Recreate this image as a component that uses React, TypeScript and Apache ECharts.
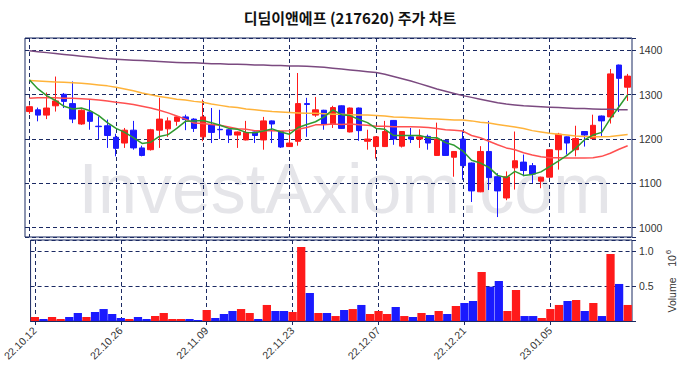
import React, { useEffect, useRef } from "react";
import * as echarts from "echarts";

const dates = [
  "22.10.12","22.10.13","22.10.14","22.10.17","22.10.18","22.10.19","22.10.20","22.10.21","22.10.24","22.10.25",
  "22.10.26","22.10.27","22.10.28","22.10.31","22.11.01","22.11.02","22.11.03","22.11.04","22.11.07","22.11.08",
  "22.11.09","22.11.10","22.11.11","22.11.14","22.11.15","22.11.16","22.11.17","22.11.18","22.11.21","22.11.22",
  "22.11.23","22.11.24","22.11.25","22.11.28","22.11.29","22.11.30","22.12.01","22.12.02","22.12.05","22.12.06",
  "22.12.07","22.12.08","22.12.09","22.12.12","22.12.13","22.12.14","22.12.15","22.12.16","22.12.19","22.12.20",
  "22.12.21","22.12.22","22.12.23","22.12.26","22.12.27","22.12.28","22.12.29","23.01.02","23.01.03","23.01.04",
  "23.01.05","23.01.06","23.01.09","23.01.10","23.01.11","23.01.12","23.01.13","23.01.16","23.01.17","23.01.18",
];

const opens = [
  1262,1266,1254,1275,1301,1280,1234,1261,1229,1230,
  1204,1191,1220,1180,1176,1220,1223,1240,1250,1245,
  1205,1232,1222,1221,1209,1198,1216,1198,1241,1217,
  1183,1195,1280,1254,1265,1234,1275,1216,1270,1195,
  1183,1183,1242,1184,1205,1200,1206,1163,1197,1159,
  1200,1146,1081,1172,1115,1067,1135,1148,1140,1105,
  1114,1176,1205,1176,1217,1201,1252,1250,1367,1317,
];
const closes = [
  1273,1254,1270,1286,1285,1245,1265,1240,1228,1208,
  1179,1220,1180,1163,1221,1245,1241,1250,1244,1224,
  1250,1215,1221,1209,1216,1215,1208,1241,1234,1182,
  1191,1280,1278,1266,1234,1271,1224,1270,1219,1200,
  1205,1217,1200,1217,1200,1205,1191,1200,1163,1172,
  1140,1083,1172,1113,1083,1115,1151,1129,1121,1114,
  1176,1211,1191,1201,1209,1231,1241,1347,1337,1342,
];
const lows = [
  1257,1240,1245,1262,1270,1236,1232,1221,1200,1180,
  1161,1180,1176,1161,1174,1180,1205,1230,1220,1216,
  1195,1191,1200,1191,1180,1197,1191,1176,1191,1180,
  1182,1185,1205,1250,1221,1225,1223,1215,1196,1176,
  1156,1182,1187,1181,1191,1180,1176,1162,1162,1115,
  1108,1058,1080,1085,1024,1062,1086,1116,1101,1089,
  1113,1131,1165,1161,1183,1200,1207,1235,1261,1286,
];
const highs = [
  1276,1271,1305,1341,1304,1330,1267,1289,1251,1244,
  1212,1225,1241,1185,1223,1293,1249,1251,1255,1247,
  1289,1270,1266,1222,1217,1241,1217,1250,1242,1218,
  1221,1349,1293,1295,1266,1275,1276,1271,1271,1221,
  1206,1241,1243,1218,1225,1222,1210,1237,1198,1173,
  1218,1147,1184,1241,1123,1127,1217,1165,1146,1115,
  1177,1214,1206,1230,1218,1255,1253,1358,1368,1347,
];
// volume in millions of shares
const volumes = [
  0.057,0.029,0.057,0.029,0.057,0.114,0.057,0.129,0.171,0.1,
  0.043,0.029,0.057,0.029,0.071,0.114,0.029,0.029,0.029,0.014,
  0.157,0.043,0.1,0.143,0.171,0.114,0.029,0.229,0.143,0.143,
  0.129,1.057,0.4,0.114,0.114,0.071,0.157,0.171,0.229,0.1,
  0.143,0.1,0.2,0.071,0.057,0.114,0.086,0.143,0.1,0.214,
  0.257,0.286,0.7,0.49,0.571,0.143,0.443,0.071,0.071,0.043,
  0.171,0.229,0.286,0.3,0.143,0.257,0.071,0.957,0.529,0.229,
];
const ma5 = [
  1334,1313,1298,1287,1274,1268,1270,1264,1253,1237,
  1224,1215,1203,1190,1193,1206,1210,1224,1240,1241,
  1242,1237,1231,1224,1222,1215,1214,1218,1223,1216,
  1211,1226,1233,1239,1250,1266,1255,1253,1244,1237,
  1224,1222,1208,1208,1208,1208,1203,1203,1192,1186,
  1173,1152,1146,1136,1118,1113,1127,1118,1120,1126,
  1138,1150,1163,1179,1198,1209,1215,1246,1273,1300,
];
const ma20 = [
  1292,1293,1293,1293,1292,1292,1291,1290,1288,1286,
  1283,1281,1278,1274,1270,1265,1259,1252,1245,1236,
  1235,1233,1231,1227,1223,1222,1219,1219,1219,1218,
  1219,1222,1226,1232,1232,1234,1233,1234,1232,1231,
  1229,1229,1228,1228,1228,1227,1226,1224,1221,1220,
  1218,1208,1203,1195,1187,1180,1176,1169,1164,1160,
  1158,1158,1157,1157,1157,1158,1161,1168,1177,1185,
];
const ma60 = [
  1332,1331,1330,1329,1328,1327,1326,1324,1322,1320,
  1317,1313,1309,1304,1300,1296,1293,1290,1288,1285,
  1283,1279,1276,1273,1271,1268,1266,1264,1262,1261,
  1260,1259,1258,1258,1257,1256,1256,1255,1254,1254,
  1253,1252,1250,1249,1248,1247,1246,1245,1244,1243,
  1243,1241,1238,1236,1233,1230,1227,1224,1219,1216,
  1213,1211,1209,1207,1206,1205,1205,1206,1208,1210,
];
const ma120 = [
  1399,1397,1395,1393,1391,1389,1387,1385,1383,1381,
  1380,1379,1378,1377,1376,1375,1374,1373,1372,1372,
  1371,1370,1370,1369,1369,1368,1367,1367,1366,1366,
  1365,1365,1364,1363,1362,1360,1358,1356,1354,1352,
  1350,1346,1341,1336,1331,1325,1319,1313,1308,1303,
  1298,1294,1290,1286,1282,1279,1277,1275,1274,1273,
  1272,1271,1270,1269,1269,1268,1267,1267,1266,1266,
];
const priceTicks = [1000, 1100, 1200, 1300, 1400];
const volumeTicks = [0.5, 1.0];
const labelEvery = 10;

const RED = "#ff1a1a";
const BLUE = "#1a1aff";
const NAVY = "#1b2a63";
const FONT = "Liberation Sans, Arial, sans-serif";

export default function App() {
  const ref = useRef<HTMLDivElement>(null);
  useEffect(() => {
    const chart = echarts.init(ref.current!, null, { renderer: "svg" });
    const candleData = dates.map((_, i) => [opens[i], closes[i], lows[i], highs[i]]);
    const showIdx = (i: number) => i % labelEvery === 0;
    const dashed = { color: NAVY, type: [4, 3], width: 1 };
    const vSplit = { show: true, alignWithLabel: true, interval: (i: number) => showIdx(i), lineStyle: dashed };
    const maLine = (data: number[], color: string, z: number) => ({
      type: "line",
      xAxisIndex: 0,
      yAxisIndex: 0,
      data,
      symbol: "none",
      showSymbol: false,
      smooth: false,
      lineStyle: { color, width: 1.5 },
      z,
    });
    chart.setOption({
      animation: false,
      backgroundColor: "#ffffff",
      textStyle: { fontFamily: FONT },
      grid: [
        { left: 25, top: 38, width: 607, height: 199, show: true, borderColor: NAVY, borderWidth: 1 },
        { left: 25, top: 240, width: 607, height: 81, show: true, borderColor: NAVY, borderWidth: 1 },
      ],
      xAxis: [
        {
          type: "category", gridIndex: 0, data: dates, boundaryGap: true,
          axisLine: { show: false }, axisTick: { show: false }, axisLabel: { show: false },
          splitLine: vSplit,
        },
        {
          type: "category", gridIndex: 1, data: dates, boundaryGap: true,
          axisLine: { show: true, lineStyle: { color: NAVY } },
          axisTick: { show: true, alignWithLabel: true, interval: (i: number) => showIdx(i), length: 4, lineStyle: { color: NAVY } },
          axisLabel: { interval: (i: number) => showIdx(i), rotate: 45, fontSize: 10.5, color: "#333", margin: 8, fontFamily: FONT },
          splitLine: vSplit,
        },
      ],
      yAxis: [
        {
          type: "value", gridIndex: 0, position: "right", min: 979, max: 1428,
          axisLine: { show: false },
          axisTick: { show: true, length: 4, lineStyle: { color: NAVY } },
          axisLabel: {
            formatter: (v: number) => (priceTicks.includes(v) ? String(v) : ""),
            fontSize: 10.5, color: "#333", margin: 7, fontFamily: FONT,
          },
          splitLine: { show: true, lineStyle: dashed },
        },
        {
          type: "value", gridIndex: 1, position: "right", min: 0, max: 1.157, interval: 0.5,
          axisLine: { show: false },
          axisTick: { show: true, length: 4, lineStyle: { color: NAVY } },
          axisLabel: {
            formatter: (v: number) => (volumeTicks.some((t) => Math.abs(t - v) < 1e-9) ? v.toFixed(1) : ""),
            fontSize: 10.5, color: "#333", margin: 7, fontFamily: FONT,
          },
          splitLine: { show: true, lineStyle: dashed },
        },
      ],
      graphic: [
        {
          type: "text", x: 345, y: 189, z: -1, silent: true,
          style: {
            text: "InvestAxiom.com", fontSize: 70, fontFamily: FONT,
            fill: "#e5e5e9", align: "center", verticalAlign: "middle",
          },
        },
        {
          type: "text", x: 350, y: 17,
          style: {
            text: "디딤이앤에프 (217620) 주가 차트", fontSize: 15, fontWeight: "bold",
            fontFamily: "Noto Sans CJK KR", fill: "#111", align: "center", verticalAlign: "middle",
          },
        },
        {
          type: "text", x: 672, y: 295, rotation: Math.PI / 2,
          style: { text: "Volume", fontSize: 10.5, fontFamily: FONT, fill: "#333", align: "center", verticalAlign: "middle" },
        },
        {
          type: "text", x: 672, y: 261, rotation: Math.PI / 2,
          style: { text: "10", fontSize: 10.5, fontFamily: FONT, fill: "#333", align: "center", verticalAlign: "middle" },
        },
        {
          type: "text", x: 668, y: 252, rotation: Math.PI / 2,
          style: { text: "6", fontSize: 8, fontFamily: FONT, fill: "#333", align: "center", verticalAlign: "middle" },
        },
      ],
      series: [
        {
          type: "candlestick", xAxisIndex: 0, yAxisIndex: 0, data: candleData, barWidth: 6, z: 3,
          itemStyle: { color: RED, color0: BLUE, borderColor: RED, borderColor0: BLUE, borderWidth: 1 },
        },
        maLine(ma120, "#7b4a80", 4),
        maLine(ma60, "#ffb33a", 4),
        maLine(ma20, "#ff5050", 4),
        maLine(ma5, "#2f9a2f", 5),
        {
          type: "bar", xAxisIndex: 1, yAxisIndex: 1, data: volumes, barCategoryGap: "4%", z: 3,
          itemStyle: { color: (p: any) => (closes[p.dataIndex] >= opens[p.dataIndex] ? RED : BLUE) },
        },
      ],
    });
    return () => chart.dispose();
  }, []);
  return (
    <div
      ref={ref}
      style={{ position: "fixed", left: 0, top: 0, width: 690, height: 378, background: "#fff" }}
    />
  );
}
